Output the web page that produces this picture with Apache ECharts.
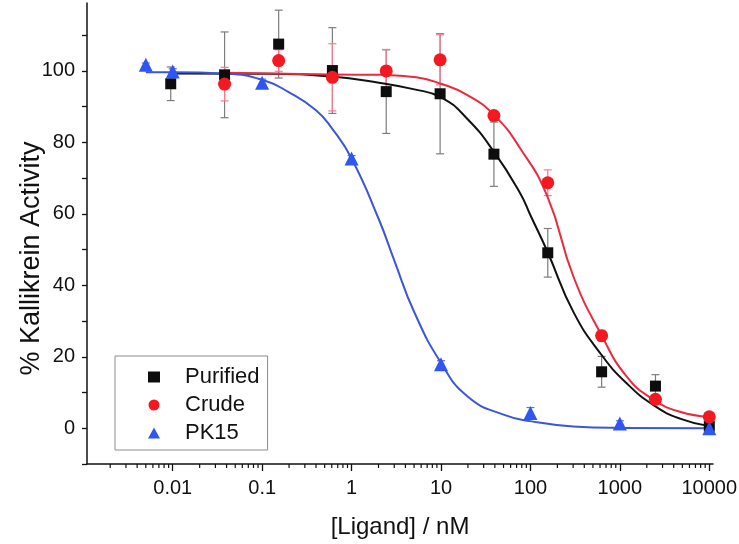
<!DOCTYPE html>
<html>
<head>
<meta charset="utf-8">
<script src="https://cdn.jsdelivr.net/npm/echarts@6/dist/echarts.min.js"></script>
<style>
  html, body { margin: 0; padding: 0; background: #fff; }
  #chart { width: 739px; height: 544px; }
</style>
</head>
<body>
<div id="chart"></div>
<script>
// measured points (x in nM, y in %), error = +/- half bar
const purifiedX = [0.0095, 0.038, 0.153, 0.61, 2.44, 9.77, 39.06, 156.25, 625, 2500, 10000];
const purifiedY = [96.4, 98.9, 107.5, 100.1, 94.2, 93.6, 76.7, 49.1, 15.8, 11.8, 0.6];
const purifiedErr = [4.7, 12, 9.5, 12, 11.7, 16.8, 9, 6.8, 4.3, 3.2, 0.5];

const crudeX = [0.038, 0.153, 0.61, 2.44, 9.77, 39.06, 156.25, 625, 2500, 10000];
const crudeY = [96.3, 102.9, 98.2, 100, 103.1, 87.5, 68.7, 25.9, 8.1, 3.2];
const crudeErr = [4.7, 3, 9.4, 6, 7, 1, 3.6, 1.5, 1, 0.5];

const pk15X = [0.005, 0.01, 0.1, 1, 10, 100, 1000, 10000];
const pk15Y = [101.7, 99.8, 96.7, 75.5, 17.9, 4.3, 1.3, 0];
const pk15Err = [0.5, 0.8, 1, 0.8, 1, 1.5, 0.8, 0.5];

// fitted curves
const fitPurifiedX = [0.0095, 0.1, 0.6, 2.1, 4.9, 10, 19.5, 39, 77, 100, 155, 303, 625, 1200, 2400, 4700, 10000];
const fitPurifiedY = [99.3, 99.2, 98.4, 96.6, 94.9, 92.6, 86.7, 77.4, 65.7, 59.6, 49.4, 32.5, 20.5, 12.5, 6.4, 2.7, 0.6];

const fitCrudeX = [0.038, 0.6, 2.1, 5.3, 10, 19.5, 39, 77, 155, 303, 625, 1200, 2380, 4700, 9800];
const fitCrudeY = [99.5, 99.0, 98.9, 98.2, 96.4, 93.3, 87.7, 78.3, 64.8, 42.4, 26, 14.4, 8.0, 4.6, 3.2];

const fitPk15X = [0.005, 0.01, 0.04, 0.1, 0.2, 0.4, 0.6, 1, 2, 3, 5, 10, 20, 50, 100, 300, 1000, 10000];
const fitPk15Y = [99.6, 99.6, 99.2, 97.5, 94, 89, 84, 75.5, 58.7, 47, 32.6, 18.3, 8.8, 3.8, 2.0, 0.5, 0.1, 0];

// log-axis minor tick positions
const minorTicksX = [];
[0.001, 0.01, 0.1, 1, 10, 100, 1000].forEach(d => {
  for (let k = 2; k <= 9; k++) minorTicksX.push(+(d * k).toPrecision(3));
});

const yMin = -10, yMax = 119;

function pairs(xs, ys) {
  return xs.map((x, i) => [x, ys[i]]);
}

function errorBars(name, xs, ys, es, color) {
  return {
    type: 'custom',
    name: name,
    silent: true,
    z: 1,
    data: xs.map((x, i) => [x, ys[i], es[i]]),
    encode: { x: 0, y: 1 },
    renderItem: function (params, api) {
      const x = api.value(0), y = api.value(1), e = api.value(2);
      const top = api.coord([x, y + e]);
      const bot = api.coord([x, y - e]);
      const hw = 4;
      const st = { stroke: color, lineWidth: 1.2 };
      return {
        type: 'group',
        children: [
          { type: 'line', shape: { x1: top[0], y1: top[1], x2: bot[0], y2: bot[1] }, style: st },
          { type: 'line', shape: { x1: top[0] - hw, y1: top[1], x2: top[0] + hw, y2: top[1] }, style: st },
          { type: 'line', shape: { x1: bot[0] - hw, y1: bot[1], x2: bot[0] + hw, y2: bot[1] }, style: st }
        ]
      };
    }
  };
}

function fitLine(name, xs, ys, color) {
  return {
    type: 'line',
    name: name,
    data: pairs(xs, ys),
    showSymbol: false,
    smooth: 0.5,
    silent: true,
    z: 2,
    lineStyle: { color: color, width: 2 }
  };
}

let myChart = echarts.init(document.getElementById('chart'));
myChart.setOption({
  animation: false,
  textStyle: { fontFamily: 'Liberation Sans, Arial, sans-serif' },
  grid: { left: 87, right: 26, top: 3, bottom: 80, outerBoundsMode: 'none', containLabel: false },
  legend: {
    data: ['Purified', 'Crude', 'PK15'],
    orient: 'vertical',
    left: 115,
    top: 356,
    padding: [10, 8, 6, 33],
    itemGap: 6,
    itemWidth: 12,
    itemHeight: 11,
    borderColor: '#8c8c8c',
    borderWidth: 1,
    selectedMode: false,
    textStyle: { fontSize: 22, color: '#111', lineHeight: 22, padding: [0, 0, 0, 20] }
  },
  xAxis: {
    type: 'log',
    logBase: 10,
    min: 0.0011,
    max: 11000,
    splitNumber: 7,
    name: '[Ligand] / nM',
    nameLocation: 'middle',
    nameGap: 51,
    nameMoveOverlap: false,
    nameTextStyle: { fontSize: 24, color: '#111' },
    axisLine: { onZero: false, lineStyle: { color: '#111', width: 1.5 } },
    axisTick: { inside: false, length: 7, lineStyle: { color: '#111', width: 1.3 } },
    axisLabel: {
      fontSize: 20,
      color: '#111',
      margin: 14,
      showMinLabel: false,
      showMaxLabel: false,
      formatter: v => String(parseFloat((+v).toPrecision(6)))
    },
    splitLine: { show: false }
  },
  yAxis: {
    type: 'value',
    min: yMin,
    max: yMax,
    interval: 10,
    name: '% Kallikrein Activity',
    nameLocation: 'middle',
    nameGap: 42,
    nameMoveOverlap: false,
    nameTextStyle: { fontSize: 27, color: '#111', padding: [0, 50, 0, 0] },
    axisLine: { show: true, lineStyle: { color: '#111', width: 1.5 } },
    axisTick: { inside: false, length: 5, lineStyle: { color: '#111', width: 1.3 } },
    axisLabel: {
      fontSize: 20,
      color: '#111',
      margin: 12,
      showMaxLabel: false,
      formatter: v => (v % 20 === 0 ? String(v) : '')
    },
    splitLine: { show: false }
  },
  series: [
    {
      type: 'custom',
      name: 'minor ticks',
      silent: true,
      data: minorTicksX.map(x => [x, yMin]),
      encode: { x: 0, y: 1 },
      renderItem: function (params, api) {
        const p = api.coord([api.value(0), yMin]);
        return {
          type: 'line',
          shape: { x1: p[0], y1: p[1], x2: p[0], y2: p[1] + 4 },
          style: { stroke: '#111', lineWidth: 1.2 }
        };
      }
    },
    errorBars('Purified err', purifiedX, purifiedY, purifiedErr, '#7d7d7d'),
    errorBars('Crude err', crudeX, crudeY, crudeErr, '#f27c93'),
    errorBars('PK15 err', pk15X, pk15Y, pk15Err, '#5a72e6'),
    fitLine('Purified fit', fitPurifiedX, fitPurifiedY, '#111111'),
    fitLine('Crude fit', fitCrudeX, fitCrudeY, '#ea2a3e'),
    fitLine('PK15 fit', fitPk15X, fitPk15Y, '#3b56d8'),
    {
      type: 'scatter',
      name: 'Purified',
      symbol: 'rect',
      symbolSize: 11,
      itemStyle: { color: '#0d0d0d', opacity: 1 },
      z: 3,
      data: pairs(purifiedX, purifiedY)
    },
    {
      type: 'scatter',
      name: 'Crude',
      symbol: 'circle',
      symbolSize: 13,
      itemStyle: { color: '#f41820', opacity: 1 },
      z: 3,
      data: pairs(crudeX, crudeY)
    },
    {
      type: 'scatter',
      name: 'PK15',
      symbol: 'triangle',
      symbolSize: 14,
      itemStyle: { color: '#2f55f2', opacity: 1 },
      z: 3,
      data: pairs(pk15X, pk15Y)
    }
  ]
});
</script>
</body>
</html>
